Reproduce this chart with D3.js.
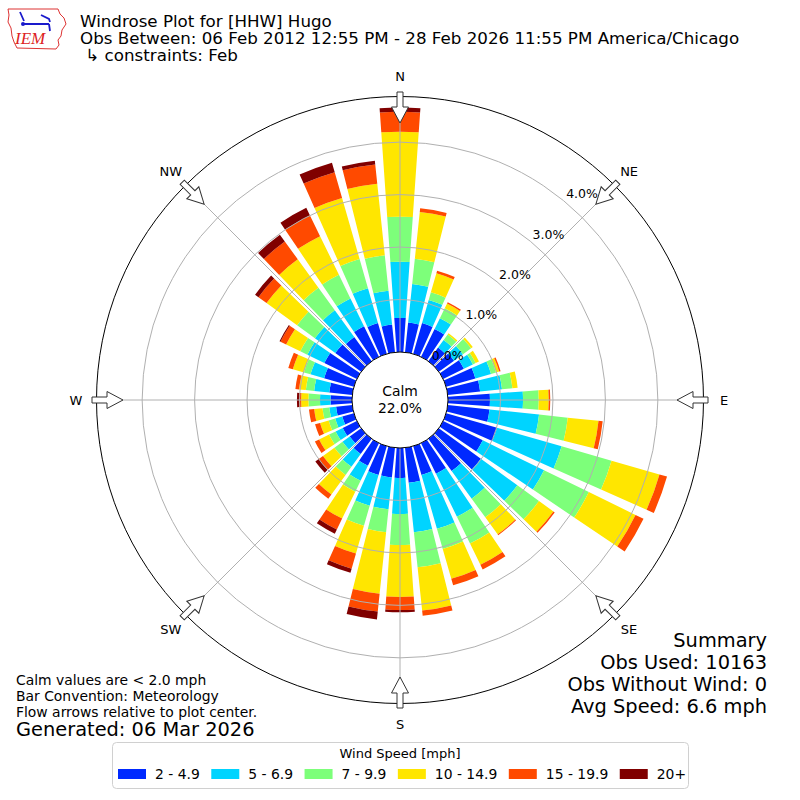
<!DOCTYPE html>
<html>
<head>
<meta charset="utf-8">
<script src="https://cdn.jsdelivr.net/npm/d3@7"></script>
<style>
body { margin: 0; background: #fff; }
text { font-family: "DejaVu Sans", sans-serif; fill: #000; }
</style>
</head>
<body>
<script>
// direction bins (degrees, meteorological "from")
var directions = [0, 10, 20, 30, 40, 50, 60, 70, 80, 90, 100, 110, 120, 130, 140, 150, 160, 170,
                  180, 190, 200, 210, 220, 230, 240, 250, 260, 270, 280, 290, 300, 310, 320, 330, 340, 350];

// frequency (%) per speed class, one value per direction
var spd2to5 = [0.65, 0.57, 0.61, 0.59, 0.32, 0.36, 0.44, 0.58, 0.62, 0.80, 0.80, 1.01, 0.84, 0.99, 0.76, 0.65, 0.57, 0.67,
               0.57, 0.57, 0.57, 0.48, 0.36, 0.27, 0.30, 0.23, 0.31, 0.41, 0.44, 0.59, 0.69, 0.61, 0.57, 0.65, 0.61, 0.53];
var spd5to7 = [1.07, 0.74, 0.46, 0.23, 0.18, 0.21, 0.19, 0.31, 0.42, 0.63, 0.95, 1.28, 1.30, 0.86, 0.65, 0.91, 1.07, 0.95,
               0.69, 0.61, 0.61, 0.32, 0.30, 0.17, 0.15, 0.14, 0.13, 0.20, 0.29, 0.27, 0.36, 0.48, 0.63, 0.59, 0.69, 0.65];
var spd7to10 = [0.86, 0.48, 0.15, 0.21, 0.13, 0.19, 0.06, 0.10, 0.20, 0.30, 0.55, 0.99, 0.95, 0.51, 0.44, 0.57, 0.40, 0.67,
                0.59, 0.44, 0.40, 0.23, 0.19, 0.19, 0.14, 0.13, 0.13, 0.22, 0.16, 0.13, 0.15, 0.42, 0.53, 0.50, 0.58, 0.68];
var spd10to15 = [1.62, 0.90, 0.38, 0.10, 0.03, 0.04, 0.07, 0.06, 0.10, 0.19, 0.59, 0.95, 0.99, 0.34, 0.40, 0.45, 0.59, 0.83,
                 0.99, 1.18, 0.55, 0.57, 0.46, 0.27, 0.21, 0.17, 0.16, 0.14, 0.13, 0.22, 0.30, 0.72, 0.67, 0.82, 1.21, 1.37];
var spd15to20 = [0.38, 0.07, 0.05, 0.03, 0, 0, 0, 0.03, 0, 0.03, 0.08, 0.15, 0.17, 0.03, 0.02, 0.10, 0.13, 0.10,
                 0.25, 0.34, 0.30, 0.23, 0.10, 0.10, 0.09, 0.10, 0.10, 0.04, 0.07, 0.09, 0.12, 0.19, 0.42, 0.44, 0.51, 0.37];
var spd20plus = [0.08, 0, 0, 0, 0, 0, 0, 0, 0, 0, 0, 0, 0, 0, 0, 0, 0, 0,
                 0.04, 0.15, 0.08, 0.09, 0, 0.08, 0, 0, 0, 0.04, 0, 0, 0.02, 0.08, 0.16, 0.16, 0.19, 0.07];

var speedLabels = ["2 - 4.9", "5 - 6.9", "7 - 9.9", "10 - 14.9", "15 - 19.9", "20+"];
var ringValues = [0, 1, 2, 3, 4];
var compassNames = ["N", "NE", "E", "SE", "S", "SW", "W", "NW"];
var compassAngles = [0, 45, 90, 135, 180, 225, 270, 315];
var calmPct = 22.0;

var colors = ["#0029ff", "#00d4ff", "#7dff7a", "#ffe600", "#ff4a00", "#800000"];

var calmR = 48, outerR = 303.5;
var halfWidth = 4 * Math.PI / 180;

function rad(d) { return d * Math.PI / 180; }

var rScale = d3.scaleLinear().domain([0, 4.87]).range([calmR, outerR]);

var series = [spd2to5, spd5to7, spd7to10, spd10to15, spd15to20, spd20plus];
var table = directions.map(function(d, i) {
	var row = {dir: d};
	speedLabels.forEach(function(k, j) { row[k] = series[j][i]; });
	return row;
});
var stacked = d3.stack().keys(speedLabels)(table);

var svg = d3.select("body").append("svg")
	.attr("width", 800)
	.attr("height", 800);

var g = svg.append("g").attr("transform", "translate(400,400)");

var arc = d3.arc();

// bars
stacked.forEach(function(layer, j) {
	g.selectAll("path.s" + j)
		.data(layer.filter(function(d) { return d[1] - d[0] > 0; }))
		.enter()
		.append("path")
		.attr("class", "s" + j)
		.attr("d", function(d) {
			return arc({
				innerRadius: rScale(d[0]),
				outerRadius: rScale(d[1]),
				startAngle: rad(d.data.dir) - halfWidth,
				endAngle: rad(d.data.dir) + halfWidth
			});
		})
		.attr("fill", colors[j]);
});

// grid on top of the bars
g.selectAll("circle.ring")
	.data(ringValues.slice(1))
	.enter()
	.append("circle")
	.attr("class", "ring")
	.attr("r", function(d) { return rScale(d); })
	.attr("fill", "none")
	.attr("stroke", "#b0b0b0")
	.attr("stroke-width", 1);

g.selectAll("line.spoke")
	.data(compassAngles)
	.enter()
	.append("line")
	.attr("class", "spoke")
	.attr("x1", function(d) { return calmR * Math.sin(rad(d)); })
	.attr("y1", function(d) { return -calmR * Math.cos(rad(d)); })
	.attr("x2", function(d) { return outerR * Math.sin(rad(d)); })
	.attr("y2", function(d) { return -outerR * Math.cos(rad(d)); })
	.attr("stroke", "#b0b0b0")
	.attr("stroke-width", 1);

g.append("circle").attr("r", outerR).attr("fill", "none").attr("stroke", "#000").attr("stroke-width", 1);
g.append("circle").attr("r", calmR).attr("fill", "#fff").attr("stroke", "#000").attr("stroke-width", 1);

// radial tick labels
var labAng = rad(39.8);
g.selectAll("text.rlab")
	.data(ringValues)
	.enter()
	.append("text")
	.attr("class", "rlab")
	.attr("x", function(d) { return rScale(d) * Math.sin(labAng) + 17; })
	.attr("y", function(d) { return -rScale(d) * Math.cos(labAng) - 8; })
	.attr("text-anchor", "middle")
	.attr("dy", "0.36em")
	.style("font-size", "12.5px")
	.text(function(d) { return d.toFixed(1) + "%"; });

// compass labels
g.selectAll("text.comp")
	.data(compassAngles)
	.enter()
	.append("text")
	.attr("class", "comp")
	.attr("x", function(d) { return 324 * Math.sin(rad(d)); })
	.attr("y", function(d) { return -324 * Math.cos(rad(d)); })
	.attr("text-anchor", "middle")
	.attr("dy", "0.36em")
	.style("font-size", "13px")
	.text(function(d, i) { return compassNames[i]; });

// flow arrows pointing to the centre
g.selectAll("path.arrow")
	.data(compassAngles)
	.enter()
	.append("path")
	.attr("class", "arrow")
	.attr("d", "M-3,-308L3,-308L3,-293L8.5,-293L0,-277L-8.5,-293L-3,-293Z")
	.attr("transform", function(d) { return "rotate(" + d + ")"; })
	.attr("fill", "#fff")
	.attr("stroke", "#333")
	.attr("stroke-width", 1);

// calm text
g.append("text").attr("y", -4).attr("text-anchor", "middle").style("font-size", "13.9px").text("Calm");
g.append("text").attr("y", 13).attr("text-anchor", "middle").style("font-size", "13.9px").text(calmPct.toFixed(1) + "%");

// titles
var titles = ["Windrose Plot for [HHW] Hugo",
	"Obs Between: 06 Feb 2012 12:55 PM - 28 Feb 2026 11:55 PM America/Chicago",
	" \u21b3 constraints: Feb"];
svg.selectAll("text.title")
	.data(titles)
	.enter()
	.append("text")
	.attr("class", "title")
	.attr("x", 80)
	.attr("y", function(d, i) { return 27 + i * 17; })
	.style("font-size", "16.7px")
	.style("white-space", "pre")
	.text(function(d) { return d; });

// logo
var logo = svg.append("g");
logo.append("path")
	.attr("d", "M8,9L58,9L60,14L64,18L66,24L62,30L61,36L58,40L59,45L56,49L17,48L14,42L12,36L11,28L8,22L9,15Z")
	.attr("fill", "none").attr("stroke", "#dd3333").attr("stroke-width", 1);
logo.append("text").attr("x", 15).attr("y", 44)
	.style("font-family", "Liberation Serif, serif").style("font-style", "italic")
	.style("font-size", "17px").style("fill", "#dd2222").text("IEM");
logo.append("path")
	.attr("d", "M24,24L49,24M20,12L24,21M41,15L49,19L50,22M49,24L50,31")
	.attr("fill", "none").attr("stroke", "#1a1acc").attr("stroke-width", 1.8);
logo.append("circle").attr("cx", 23).attr("cy", 24).attr("r", 2).attr("fill", "#1a1acc");

// notes bottom left
var notes = ["Calm values are < 2.0 mph", "Bar Convention: Meteorology", "Flow arrows relative to plot center."];
svg.selectAll("text.note")
	.data(notes)
	.enter()
	.append("text")
	.attr("class", "note")
	.attr("x", 16)
	.attr("y", function(d, i) { return 685 + i * 16; })
	.style("font-size", "13.9px")
	.text(function(d) { return d; });
svg.append("text").attr("x", 16).attr("y", 736).style("font-size", "19.4px").text("Generated: 06 Mar 2026");

// summary bottom right
var summary = ["Summary", "Obs Used: 10163", "Obs Without Wind: 0", "Avg Speed: 6.6 mph"];
svg.selectAll("text.sum")
	.data(summary)
	.enter()
	.append("text")
	.attr("class", "sum")
	.attr("x", 767)
	.attr("y", function(d, i) { return 647 + i * 22; })
	.attr("text-anchor", "end")
	.style("font-size", "19.4px")
	.text(function(d) { return d; });

// legend
var legend = svg.append("g");
legend.append("rect")
	.attr("x", 112.5).attr("y", 742.5).attr("width", 576).attr("height", 46).attr("rx", 4)
	.attr("fill", "#fff").attr("stroke", "#d0d0d0");
legend.append("text").attr("x", 400).attr("y", 758).attr("text-anchor", "middle")
	.style("font-size", "13px").text("Wind Speed [mph]");
var lx = 118;
speedLabels.forEach(function(lab, i) {
	legend.append("rect").attr("x", lx).attr("y", 769).attr("width", 28).attr("height", 10).attr("fill", colors[i]);
	var t = legend.append("text").attr("x", lx + 37).attr("y", 779).style("font-size", "13.9px").text(lab);
	lx += 37 + t.node().getComputedTextLength() + 11.5;
});
</script>
</body>
</html>
